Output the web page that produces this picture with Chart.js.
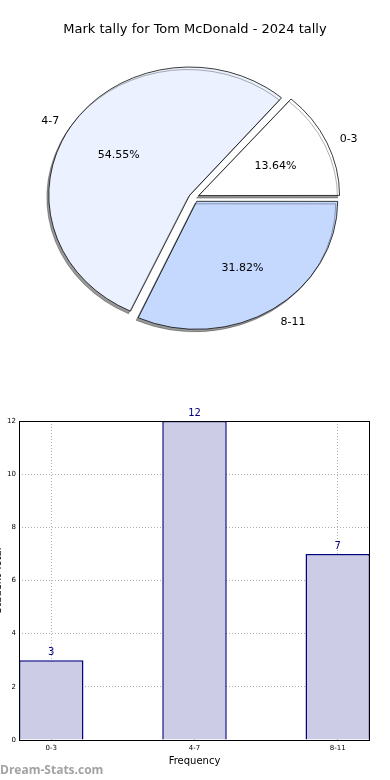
<!DOCTYPE html>
<html>
<head>
<meta charset="utf-8">
<script src="https://cdn.jsdelivr.net/npm/chart.js@4.4.1/dist/chart.umd.min.js"></script>
<style>
  html, body { margin: 0; padding: 0; background: #fff; }
  #wrap { position: relative; width: 390px; height: 780px; overflow: hidden; font-family: "DejaVu Sans", sans-serif; }
  #title { position: absolute; left: 0; top: 21px; width: 390px; text-align: center; font-size: 13px; color: #000; }
  #pie { position: absolute; left: 0; top: 0; }
  #bar { position: absolute; left: 0; top: 380px; }
  #mark { position: absolute; left: 0; top: 761px; font: bold 12px "Open Sans", sans-serif; color: #a3a3a3; }
</style>
</head>
<body>
<div id="wrap">
  <canvas id="pie" width="390" height="400"></canvas>
  <canvas id="bar" width="390" height="400"></canvas>
  <div id="title">Mark tally for Tom McDonald - 2024 tally</div>
  <div id="mark">Dream-Stats.com</div>
</div>
<script>
'use strict'

const categories = ['0-3', '4-7', '8-11']
const tally = [3, 12, 7]
const sliceColors = ['#ffffff', '#ebf1fe', '#c5d8fe']
const yTicks = [0, 2, 4, 6, 8, 10, 12]

const total = tally.reduce((a, b) => a + b, 0)

// matplotlib goes counter-clockwise from east, chart.js clockwise -> reverse
const pieLabels = categories.slice().reverse()
const pieValues = tally.slice().reverse()
const pieColors = sliceColors.slice().reverse()

const R = 141        // pie radius
const SQUASH = 0.908 // pie is an ellipse in the reference
const EXPLODE = 5    // px each wedge is pulled out

const ellipse = {
  id: 'ellipse',
  afterDatasetsUpdate(chart) {
    // chart.js grows wedges by offset*fix, undo it so all share radius R
    chart.getDatasetMeta(0).data.forEach(arc => {
      const c = arc.endAngle - arc.startAngle
      const fix = 1 - Math.sin(Math.min(Math.PI, c))
      arc.outerRadius = R - EXPLODE * fix
    })
  },
  beforeDatasetsDraw(chart) {
    const ctx = chart.ctx
    const arc = chart.getDatasetMeta(0).data[0]
    ctx.save()
    ctx.translate(arc.x, arc.y)
    ctx.scale(1, SQUASH)
    ctx.translate(-arc.x, -arc.y)
    ctx.shadowColor = 'rgba(0,0,0,0.4)'
    ctx.shadowOffsetX = -2
    ctx.shadowOffsetY = 2.5
    ctx.shadowBlur = 0.5
  },
  afterDatasetsDraw(chart) {
    chart.ctx.restore()
  },
  afterDraw(chart) {
    const ctx = chart.ctx
    ctx.save()
    ctx.fillStyle = '#000'
    ctx.font = '11px "DejaVu Sans"'
    ctx.textBaseline = 'middle'
    chart.getDatasetMeta(0).data.forEach((arc, i) => {
      const a = (arc.startAngle + arc.endAngle) / 2
      const cx = arc.x + Math.cos(a) * EXPLODE
      const cy = arc.y + Math.sin(a) * EXPLODE
      const pos = d => [cx + Math.cos(a) * d, arc.y + 2 + (cy - arc.y + Math.sin(a) * d) * SQUASH]
      let [lx, ly] = pos(R * 1.1)
      ctx.textAlign = Math.cos(a) > 0 ? 'left' : 'right'
      ctx.fillText(pieLabels[i], lx, ly)
      let [px, py] = pos(R * 0.6)
      ctx.textAlign = 'center'
      ctx.fillText((pieValues[i] / total * 100).toFixed(2) + '%', px, py)
    })
    ctx.restore()
  }
}

new Chart(document.getElementById('pie'), {
  type: 'pie',
  data: {
    labels: pieLabels,
    datasets: [{
      data: pieValues,
      backgroundColor: pieColors,
      borderColor: '#000',
      borderWidth: 0.8,
      offset: EXPLODE * 4,
      hoverOffset: 0
    }]
  },
  options: {
    responsive: false,
    animation: false,
    rotation: 90,
    radius: R,
    layout: { padding: { left: 0, right: 2, top: 0, bottom: 5 } },
    plugins: { legend: { display: false }, tooltip: { enabled: false } }
  },
  plugins: [ellipse]
})

const frame = {
  id: 'frame',
  afterDatasetsDraw(chart) {
    const ctx = chart.ctx
    const a = chart.chartArea
    ctx.save()
    ctx.strokeStyle = '#000'
    ctx.lineWidth = 1
    ctx.strokeRect(a.left + 0.5, a.top + 0.5, a.right - a.left - 1, a.bottom - a.top)
    // bar value labels
    ctx.fillStyle = '#000080'
    ctx.font = '10px "DejaVu Sans"'
    ctx.textAlign = 'center'
    ctx.textBaseline = 'bottom'
    chart.getDatasetMeta(0).data.forEach((bar, i) => {
      ctx.fillText(String(tally[i]), bar.x, bar.y - 3)
    })
    // y axis title, mostly outside the canvas like the reference
    ctx.fillStyle = '#000'
    ctx.translate(0.5, (a.top + a.bottom) / 2)
    ctx.rotate(-Math.PI / 2)
    ctx.textBaseline = 'alphabetic'
    ctx.fillText('Student Total', 0, 0)
    ctx.restore()
  }
}

new Chart(document.getElementById('bar'), {
  type: 'bar',
  data: {
    datasets: [{
      data: tally.map((v, i) => ({ x: i, y: v })),
      backgroundColor: '#ccccE6',
      borderColor: '#000080',
      borderWidth: 1.5,
      categoryPercentage: 1,
      barPercentage: 0.45
    }]
  },
  options: {
    responsive: false,
    animation: false,
    layout: { padding: { top: 41, right: 20, left: 0, bottom: 0 } },
    plugins: { legend: { display: false }, tooltip: { enabled: false } },
    scales: {
      x: {
        type: 'linear',
        offset: false,
        min: -0.225,
        max: 2.225,
        afterFit: s => { s.height = 40 },
        afterBuildTicks: s => { s.ticks = categories.map((c, i) => ({ value: i })) },
        ticks: {
          callback: v => categories[v],
          font: { size: 7, family: 'DejaVu Sans' },
          color: '#000',
          padding: 4,
          maxRotation: 0
        },
        grid: { offset: false, color: '#b0b0b0', drawTicks: false, lineWidth: 1 },
        border: { display: false, dash: [1, 2] },
        title: { display: true, text: 'Frequency', font: { size: 10, family: 'DejaVu Sans' }, color: '#000', padding: { top: 0, bottom: 13 } }
      },
      y: {
        min: 0,
        max: 12,
        afterFit: s => { s.width = 19 },
        afterBuildTicks: s => { s.ticks = yTicks.map(v => ({ value: v })) },
        ticks: { font: { size: 7, family: 'DejaVu Sans' }, color: '#000', padding: 3 },
        grid: { color: '#b0b0b0', drawTicks: false, lineWidth: 1 },
        border: { display: false, dash: [1, 2] }
      }
    }
  },
  plugins: [frame]
})
</script>
</body>
</html>
